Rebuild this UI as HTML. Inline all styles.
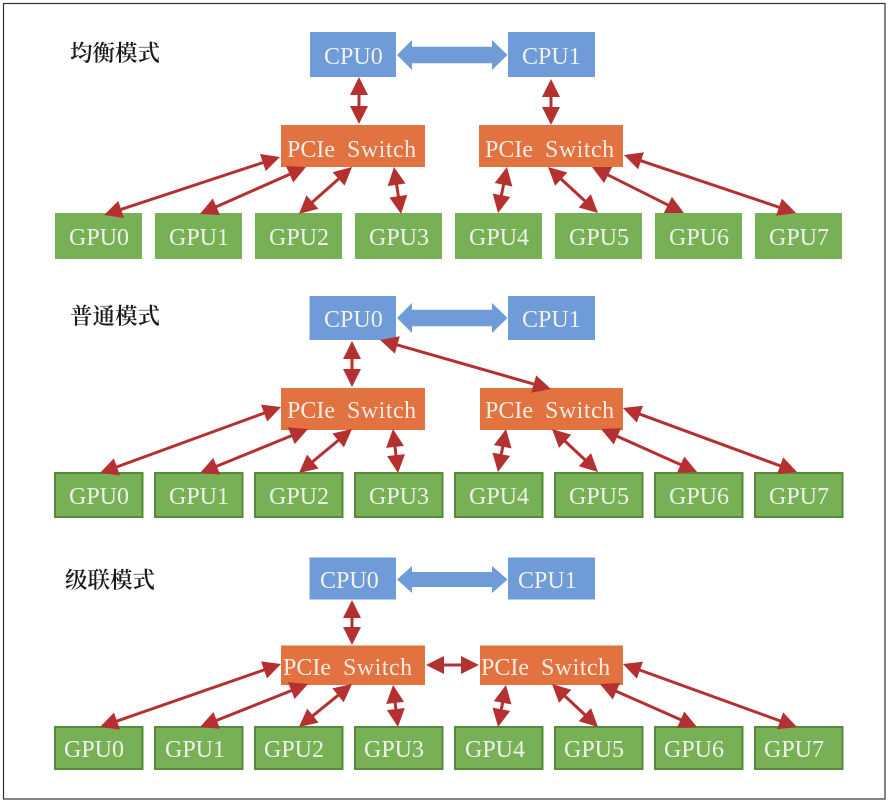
<!DOCTYPE html>
<html lang="zh">
<head>
<meta charset="utf-8">
<title>GPU topology modes</title>
<style>
html,body{margin:0;padding:0;background:#fff;width:896px;height:812px;overflow:hidden}
svg{display:block}
.w{font-family:"Liberation Serif","Noto Serif CJK SC",serif;font-size:24px;fill:#eef3ea}
.s{font-family:"Liberation Serif","Noto Serif CJK SC",serif;font-size:24px;fill:#f5ece4;word-spacing:6px}
.s tspan{letter-spacing:.5px}
.t{font-family:"Liberation Serif","Noto Serif CJK SC",serif;font-size:22.5px;fill:#1a1a1a;font-weight:600}
.a line{stroke:#b53030;stroke-width:3;marker-start:url(#h);marker-end:url(#h)}
.b{fill:#6f9bd8}.o{fill:#e2723f}.g{fill:#78b155}
.gb{fill:#78b155;stroke:#578a3c;stroke-width:2}
</style>
</head>
<body>
<svg width="896" height="812" viewBox="0 0 896 812" xmlns="http://www.w3.org/2000/svg">
<defs>
<marker id="h" markerUnits="userSpaceOnUse" markerWidth="24" markerHeight="24" refX="17" refY="12" orient="auto-start-reverse">
<polygon points="2,3 20,12 2,21" fill="#b53030"/>
</marker>
</defs>
<rect width="896" height="812" fill="#fff"/>
<rect x="3.5" y="3.5" width="881.5" height="795.5" fill="#fff" stroke="#333" stroke-width="1.2"/>

<!-- Mode 1 -->
<text class="t" x="70" y="61">均衡模式</text>
<rect class="b" x="310" y="32" width="86" height="45"/>
<rect class="b" x="508" y="32" width="87" height="45"/>
<polygon class="b" points="397,55 412,40 412,46.7 492,46.7 492,40 507.5,55 492,70 492,63.3 412,63.3 412,70"/>
<rect class="o" x="281" y="125" width="144" height="42"/>
<rect class="o" x="479" y="125" width="144" height="42"/>
<rect class="g" x="55" y="213" width="87" height="46"/>
<rect class="g" x="155" y="213" width="87" height="46"/>
<rect class="g" x="255" y="213" width="87" height="46"/>
<rect class="g" x="355" y="213" width="87" height="46"/>
<rect class="g" x="455" y="213" width="87" height="46"/>
<rect class="g" x="555" y="213" width="87" height="46"/>
<rect class="g" x="655" y="213" width="87" height="46"/>
<rect class="g" x="755" y="213" width="87" height="46"/>
<g class="a">
<line x1="359" y1="80" x2="359" y2="121"/>
<line x1="551" y1="82" x2="551" y2="122"/>
<line x1="277.1" y1="157.9" x2="106.9" y2="214.1"/>
<line x1="303.3" y1="168.2" x2="202.7" y2="212.8"/>
<line x1="349.8" y1="169" x2="301.2" y2="212"/>
<line x1="394.4" y1="170" x2="400.6" y2="211"/>
<line x1="506.4" y1="170" x2="498.6" y2="210"/>
<line x1="550.2" y1="169" x2="595.8" y2="211"/>
<line x1="594.7" y1="168.3" x2="681.3" y2="211.7"/>
<line x1="626.8" y1="156" x2="793.2" y2="212"/>
</g>
<text class="w" x="324" y="64">CPU0</text>
<text class="w" x="522" y="64">CPU1</text>
<text class="s" x="287" y="157">PCIe <tspan>Switch</tspan></text>
<text class="s" x="485" y="157">PCIe <tspan>Switch</tspan></text>
<text class="w" x="69" y="245">GPU0</text>
<text class="w" x="169" y="245">GPU1</text>
<text class="w" x="269" y="245">GPU2</text>
<text class="w" x="369" y="245">GPU3</text>
<text class="w" x="469" y="245">GPU4</text>
<text class="w" x="569" y="245">GPU5</text>
<text class="w" x="669" y="245">GPU6</text>
<text class="w" x="769" y="245">GPU7</text>

<!-- Mode 2 -->
<text class="t" x="70" y="324">普通模式</text>
<rect class="b" x="309.5" y="296" width="86.5" height="44"/>
<rect class="b" x="508" y="296" width="87" height="44"/>
<polygon class="b" points="397,318 412,303 412,309.7 492,309.7 492,303 507.5,318 492,333 492,326.3 412,326.3 412,333"/>
<rect class="o" x="281" y="388" width="144" height="42"/>
<rect class="o" x="480" y="388" width="143" height="42"/>
<rect class="gb" x="55" y="473" width="87.5" height="44"/>
<rect class="gb" x="155" y="473" width="87.5" height="44"/>
<rect class="gb" x="255" y="473" width="87.5" height="44"/>
<rect class="gb" x="355" y="473" width="87.5" height="44"/>
<rect class="gb" x="455" y="473" width="87.5" height="44"/>
<rect class="gb" x="555" y="473" width="87.5" height="44"/>
<rect class="gb" x="655" y="473" width="87.5" height="44"/>
<rect class="gb" x="755" y="473" width="87.5" height="44"/>
<g class="a">
<line x1="352" y1="344" x2="352" y2="384"/>
<line x1="382.9" y1="340.8" x2="548.1" y2="388.2"/>
<line x1="278.2" y1="408" x2="102.8" y2="472"/>
<line x1="305.2" y1="430.1" x2="202.8" y2="471.9"/>
<line x1="349.7" y1="430.9" x2="301.3" y2="471.1"/>
<line x1="393.3" y1="432" x2="397.7" y2="470"/>
<line x1="505.5" y1="432" x2="498.5" y2="469"/>
<line x1="554.2" y1="431" x2="595.8" y2="470"/>
<line x1="603.7" y1="430.2" x2="694.3" y2="470.8"/>
<line x1="625.8" y1="409" x2="794.2" y2="471"/>
</g>
<text class="w" x="324" y="327">CPU0</text>
<text class="w" x="522" y="327">CPU1</text>
<text class="s" x="287" y="418">PCIe <tspan>Switch</tspan></text>
<text class="s" x="485" y="418">PCIe <tspan>Switch</tspan></text>
<text class="w" x="69" y="504">GPU0</text>
<text class="w" x="169" y="504">GPU1</text>
<text class="w" x="269" y="504">GPU2</text>
<text class="w" x="369" y="504">GPU3</text>
<text class="w" x="469" y="504">GPU4</text>
<text class="w" x="569" y="504">GPU5</text>
<text class="w" x="669" y="504">GPU6</text>
<text class="w" x="769" y="504">GPU7</text>

<!-- Mode 3 -->
<text class="t" x="65" y="588">级联模式</text>
<rect class="b" x="309.5" y="557.5" width="86.5" height="42"/>
<rect class="b" x="508" y="557.5" width="87" height="42"/>
<polygon class="b" points="397,579.5 412,566 412,572 492,572 492,566 507.5,579.5 492,593 492,587 412,587 412,593"/>
<rect class="o" x="281" y="645.5" width="144" height="39.5"/>
<rect class="o" x="480" y="645.5" width="143" height="39.5"/>
<rect class="gb" x="55" y="727" width="87.5" height="42"/>
<rect class="gb" x="155" y="727" width="87.5" height="42"/>
<rect class="gb" x="255" y="727" width="87.5" height="42"/>
<rect class="gb" x="355" y="727" width="87.5" height="42"/>
<rect class="gb" x="455" y="727" width="87.5" height="42"/>
<rect class="gb" x="555" y="727" width="87.5" height="42"/>
<rect class="gb" x="655" y="727" width="87.5" height="42"/>
<rect class="gb" x="755" y="727" width="87.5" height="42"/>
<g class="a">
<line x1="352" y1="603" x2="352" y2="642"/>
<line x1="429" y1="665" x2="476" y2="665"/>
<line x1="278.2" y1="665" x2="102.8" y2="726"/>
<line x1="305.2" y1="685.1" x2="202.8" y2="725.9"/>
<line x1="349.7" y1="685.9" x2="301.3" y2="725.1"/>
<line x1="393.4" y1="688" x2="397.6" y2="724"/>
<line x1="505.4" y1="688" x2="498.6" y2="724"/>
<line x1="554.2" y1="686" x2="595.8" y2="725"/>
<line x1="602.7" y1="685.2" x2="694.3" y2="725.8"/>
<line x1="625.8" y1="665" x2="794.2" y2="726"/>
</g>
<text class="w" x="320" y="588">CPU0</text>
<text class="w" x="518" y="588">CPU1</text>
<text class="s" x="283" y="675">PCIe <tspan>Switch</tspan></text>
<text class="s" x="481" y="675">PCIe <tspan>Switch</tspan></text>
<text class="w" x="64" y="757">GPU0</text>
<text class="w" x="165" y="757">GPU1</text>
<text class="w" x="264" y="757">GPU2</text>
<text class="w" x="364" y="757">GPU3</text>
<text class="w" x="465" y="757">GPU4</text>
<text class="w" x="564" y="757">GPU5</text>
<text class="w" x="664" y="757">GPU6</text>
<text class="w" x="764" y="757">GPU7</text>
</svg>
</body>
</html>
